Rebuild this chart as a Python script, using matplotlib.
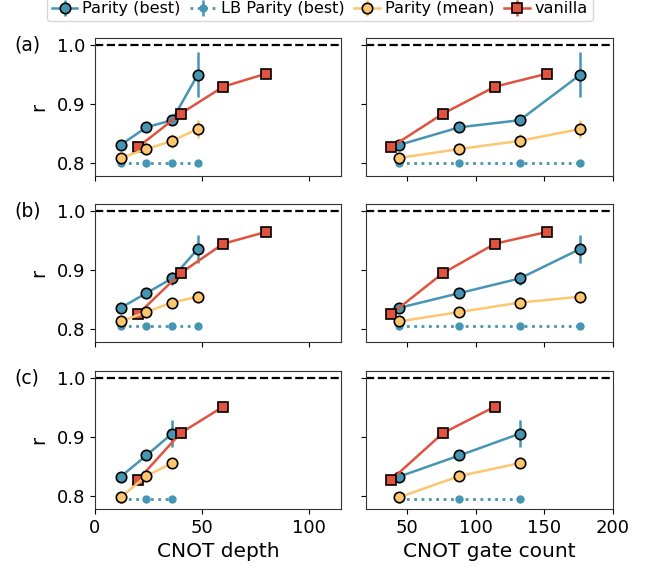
import numpy as np
import matplotlib.pyplot as plt

# x positions
par_depth = [12, 24, 36, 48]
par_count = [44, 88, 132, 176]
van_depth = [20, 40, 60, 80]
van_count = [38, 76, 114, 152]

# (a)
a_best = [0.830, 0.860, 0.872, 0.949]
a_best_err = [0.004, 0.004, 0.006, 0.038]
a_lb = [0.800, 0.800, 0.800, 0.800]
a_mean = [0.808, 0.823, 0.837, 0.857]
a_mean_err = [0.004, 0.010, 0.012, 0.015]
a_van = [0.826, 0.883, 0.929, 0.951]
a_van_err = [0.003, 0.003, 0.003, 0.003]

# (b)
b_best = [0.835, 0.860, 0.885, 0.935]
b_best_err = [0.004, 0.005, 0.011, 0.024]
b_lb = [0.805, 0.805, 0.805, 0.805]
b_mean = [0.812, 0.828, 0.844, 0.854]
b_mean_err = [0.004, 0.006, 0.010, 0.010]
b_van = [0.824, 0.894, 0.944, 0.964]
b_van_err = [0.003, 0.003, 0.003, 0.003]

# (c)
c_best = [0.832, 0.868, 0.905]
c_best_err = [0.004, 0.005, 0.023]
c_lb = [0.794, 0.794, 0.794]
c_mean = [0.797, 0.833, 0.855]
c_mean_err = [0.003, 0.006, 0.006]
c_van = [0.826, 0.906, 0.951]
c_van_err = [0.006, 0.008, 0.008]

rows = [
    ("(a)", a_best, a_best_err, a_lb, a_mean, a_mean_err, a_van, a_van_err),
    ("(b)", b_best, b_best_err, b_lb, b_mean, b_mean_err, b_van, b_van_err),
    ("(c)", c_best, c_best_err, c_lb, c_mean, c_mean_err, c_van, c_van_err),
]

BLUE = "#4695b3"
YELLOW = "#fec66e"
RED = "#e0533f"

fig = plt.figure(figsize=(6.62, 5.72), dpi=100)
bottoms = [0.692, 0.402, 0.110]
h = 0.242
ylo, yhi = 0.777, 1.012

handles = None
for r, (lab, best, best_err, lb, mean, mean_err, van, van_err) in enumerate(rows):
    axl = fig.add_axes([0.1435, bottoms[r], 0.3716, h])
    axr = fig.add_axes([0.553, bottoms[r], 0.373, h], sharey=axl)
    n = len(best)
    for ax, px, vx in [(axl, par_depth[:n], van_depth[:n]), (axr, par_count[:n], van_count[:n])]:
        ax.axhline(1.0, color="k", ls="--", lw=1.6, zorder=1)
        h1 = ax.errorbar(px, best, yerr=best_err, color=BLUE, marker="o", ms=7.5,
                         mec="k", mew=1.2, lw=1.8, elinewidth=1.8, label="Parity (best)", zorder=3)
        h2 = ax.errorbar(px, lb, yerr=[0.002] * n, color=BLUE, marker="o", ms=5,
                         mec=BLUE, ls=":", lw=2, elinewidth=1.8, label="LB Parity (best)", zorder=2)
        h3 = ax.errorbar(px, mean, yerr=mean_err, color=YELLOW, marker="o", ms=7.5,
                         mec="k", mew=1.2, lw=1.8, elinewidth=1.8, label="Parity (mean)", zorder=4)
        h4 = ax.errorbar(vx, van, yerr=van_err, color=RED, marker="s", ms=7.5,
                         mec="k", mew=1.2, lw=1.8, elinewidth=1.8, label="vanilla", zorder=3)
        handles = [h1, h2, h3, h4]
        for s in ax.spines.values():
            s.set_color("#333333")
    axl.set_xlim(0, 115)
    axr.set_xlim(20, 200)
    axl.set_ylim(ylo, yhi)
    axl.set_yticks([0.8, 0.9, 1.0])
    axl.set_xticks([0, 50, 100])
    axr.set_xticks([50, 100, 150, 200])
    axl.tick_params(labelsize=13)
    axr.tick_params(labelsize=13, labelleft=False)
    axl.set_ylabel("r", fontsize=14, labelpad=6)
    fig.text(0.021, bottoms[r] + h * (1.0 - ylo) / (yhi - ylo),
             lab, fontsize=13.5, va="center", ha="left")
    if r < 2:
        axl.tick_params(labelbottom=False)
        axr.tick_params(labelbottom=False)
    else:
        axl.set_xlabel("CNOT depth", fontsize=14.5)
        axr.set_xlabel("CNOT gate count", fontsize=14.5)

fig.legend(handles, ["Parity (best)", "LB Parity (best)", "Parity (mean)", "vanilla"],
           loc="upper center", bbox_to_anchor=(0.483, 1.02), ncol=4, fontsize=11.6,
           handlelength=1.6, columnspacing=0.6, handletextpad=0.3, borderpad=0.3)

plt.savefig("out.png", dpi=100)
